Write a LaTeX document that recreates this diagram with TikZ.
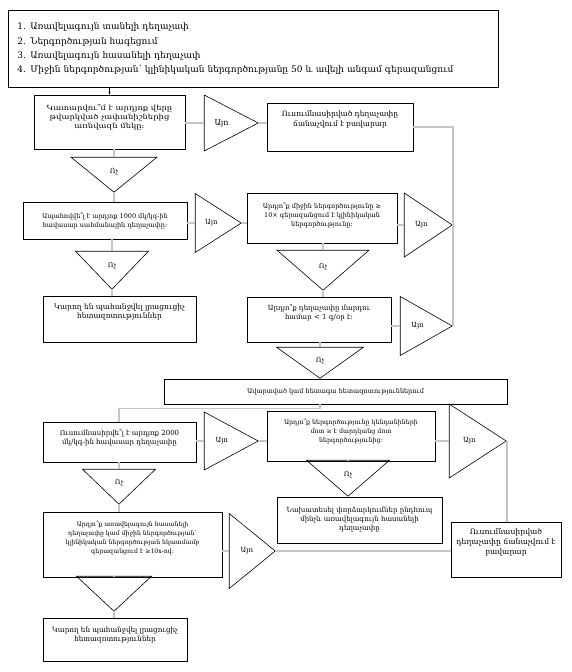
\documentclass[tikz,border=0pt]{standalone}
\usepackage{fontspec}
\setmainfont{DejaVu Serif}
\newfontfamily\wideserif{DejaVu Serif}[FakeStretch=1.2]
\usetikzlibrary{shapes.geometric,arrows.meta}
\newcommand\flowfont{\fontsize{7}{9}\selectfont}
\newcommand\critfont{\fontsize{9}{14.3}\selectfont}

\begin{document}
\begin{tikzpicture}[x=1pt, y=-1pt,
 box/.style={draw, rectangle, line width=0.6pt, align=center, inner sep=1pt, font=\flowfont},
 lift/.style={text depth=#1},
 yes/.style={draw, isosceles triangle, isosceles triangle stretches, shape border rotate=0, line width=0.6pt, inner sep=0pt, anchor=apex, font=\flowfont},
 no/.style={draw, isosceles triangle, isosceles triangle stretches, shape border rotate=270, line width=0.6pt, inner sep=0pt, anchor=apex, font=\flowfont},
 link/.style={draw=gray!45, line width=1.5pt}]
 \useasboundingbox (0,0) rectangle (572,672);
 \node [box, anchor=north west, minimum width=490, minimum height=77, text width=472, inner xsep=9pt, align=left, font=\critfont] (crit) at (8,10) {1. Առավելագույն տանելի դեղաչափ\\2. Ներգործության հագեցում\\3. Առավելագույն հասանելի դեղաչափ\\4. Միջին ներգործության՝ կլինիկական ներգործությանը 50 և ավելի անգամ գերազանցում};
 \node [box, lift=10, minimum width=151, minimum height=54, font=\wideserif\fontsize{7}{9}\selectfont] (chk) at (109.5,122) {Կատարվու՞մ է արդյոք վերը\\թվարկված չափանիշներից\\առնվազն մեկը։};
 \node [yes, minimum height=54, minimum width=56, font=\fontsize{8}{9}\selectfont] (yes1) at (259,123) {Այո};
 \node [box, lift=16, minimum width=146, minimum height=48, font=\fontsize{7.5}{10}\selectfont] (ok1) at (340,127) {Ուսումնասիրված դեղաչափը\\ճանաչվում է բավարար};
 \node [no, minimum width=86, minimum height=35] (no1) at (114,193) {Ոչ};
 \node [box, minimum width=164, minimum height=37, font=\fontsize{6.5}{9}\selectfont] (lim) at (105,220.5) {Ապահովվե՞լ է արդյոք 1000 մկ/կգ-ին\\հավասար սահմանային դեղաչափը։};
 \node [yes, minimum height=46, minimum width=59] (yes2) at (242,223) {Այո};
 \node [box, lift=7, minimum width=150, minimum height=50, font=\fontsize{6.5}{9}\selectfont] (mean) at (322,218) {Արդյո՞ք միջին ներգործությունը ≥\\10× գերազանցում է կլինիկական\\ներգործությունը։};
 \node [yes, minimum height=48, minimum width=64] (yes3) at (453,225) {Այո};
 \node [no, minimum width=73, minimum height=38] (no2) at (112,290) {Ոչ};
 \node [box, lift=15, minimum width=153, minimum height=46, font=\fontsize{7.5}{9}\selectfont] (more1) at (119.5,319) {Կարող են պահանջվել լրացուցիչ\\հետազոտություններ};
 \node [no, minimum width=92, minimum height=40] (no3) at (323,291) {Ոչ};
 \node [box, lift=16, minimum width=144, minimum height=45] (hum) at (319,319.5) {Արդյո՞ք դեղաչափը մարդու\\համար < 1 գ/օր է։};
 \node [yes, minimum height=52, minimum width=59] (yes4) at (453,326) {Այո};
 \node [no, minimum width=87, minimum height=31] (no4) at (320,379) {Ոչ};
 \node [box, minimum width=343, minimum height=25, font=\fontsize{6.5}{9}\selectfont] (done) at (335.5,391.5) {Ավարտված կամ հետագա հետազոտություններում};
 \node [box, lift=11, minimum width=153, minimum height=40] (dose) at (119.5,442) {Ուսումնասիրվե՞լ է արդյոք 2000\\մկ/կգ-ին հավասար դեղաչափը};
 \node [yes, minimum height=54, minimum width=58] (yes5) at (259,441) {Այո};
 \node [box, lift=10, minimum width=168, minimum height=50, font=\fontsize{6.3}{9}\selectfont] (anim) at (351,436) {Արդյո՞ք ներգործությունը կենդանիների\\մոտ ≥ է մարդկանց մոտ\\ներգործությունից։};
 \node [yes, minimum height=57, minimum width=74] (yes6) at (507,441) {Այո};
 \node [no, minimum width=83, minimum height=36] (no5) at (348,497) {Ոչ};
 \node [box, minimum width=165, minimum height=46] (plan) at (359.5,520) {Նախատեսել փորձարկումներ ընդհուպ\\մինչև առավելագույն հասանելի\\դեղաչափը};
 \node [no, minimum width=73, minimum height=35] (no6) at (119,505) {Ոչ};
 \node [box, lift=15, minimum width=179, minimum height=65, font=\fontsize{6.2}{9}\selectfont] (mfd) at (132.5,544.5) {Արդյո՞ք առավելագույն հասանելի\\դեղաչափը կամ միջին ներգործության՝\\կլինիկական ներգործության նկատմամբ\\գերազանցում է ≥10x-ով։};
 \node [yes, minimum height=46, minimum width=75] (yes7) at (276,551) {Այո};
 \node [box, lift=15, minimum width=110, minimum height=55, font=\fontsize{7.7}{10}\selectfont] (ok2) at (506,549.5) {Ուսումնասիրված\\դեղաչափը ճանաչվում է\\բավարար};
 \node [no, minimum width=75, minimum height=35] (no7) at (114,612) {};
 \node [box, lift=10, minimum width=144, minimum height=43, font=\fontsize{7.2}{9}\selectfont] (more2) at (115,639.5) {Կարող են պահանջվել լրացուցիչ\\հետազոտություններ};
 \draw [-{Stealth[length=3pt]}, line width=0.8pt] (crit.south -| chk.north) -- (chk.north);
 \draw [link] (chk.east |- yes1.apex) -- (yes1.lower side);
 \draw [link] (yes1.apex) -- (yes1.apex -| ok1.west);
 \draw [link] (ok1.east) -| (yes4.apex);
 \draw [link] (no1.apex |- chk.south) -- (no1.lower side);
 \draw [link] (no1.apex) -- (no1.apex |- lim.north);
 \draw [link] (lim.east |- yes2.apex) -- (yes2.lower side);
 \draw [link] (yes2.apex) -- (yes2.apex -| mean.west);
 \draw [link] (mean.east |- yes3.apex) -- (yes3.lower side);
 \draw [link] (no2.apex |- lim.south) -- (no2.lower side);
 \draw [link] (no2.apex) -- (no2.apex |- more1.north);
 \draw [link] (no3.apex |- mean.south) -- (no3.lower side);
 \draw [link] (no3.apex) -- (no3.apex |- hum.north);
 \draw [link] (hum.east |- yes4.apex) -- (yes4.lower side);
 \draw [link] (no4.apex |- hum.south) -- (no4.lower side);
 \draw [link] (no4.apex |- done.south) -- ++(0,4) -| (no6.apex |- dose.north);
 \draw [link] (dose.east |- yes5.apex) -- (yes5.lower side);
 \draw [link] (yes5.apex) -- (yes5.apex -| anim.west);
 \draw [link] (anim.east |- yes6.apex) -- (yes6.lower side);
 \draw [link] (yes6.apex) -- (yes6.apex |- ok2.north);
 \draw [link] (no5.apex |- anim.south) -- (no5.lower side);
 \draw [link] (no6.apex |- dose.south) -- (no6.lower side);
 \draw [link] (no6.apex) -- (no6.apex |- mfd.north);
 \draw [link] (mfd.east |- yes7.apex) -- (yes7.lower side);
 \draw [link] (yes7.apex) -- (yes7.apex -| ok2.west);
 \draw [link] (no7.apex |- mfd.south) -- (no7.lower side);
 \draw [link] (no7.apex) -- (no7.apex |- more2.north);
\end{tikzpicture}
\end{document}
